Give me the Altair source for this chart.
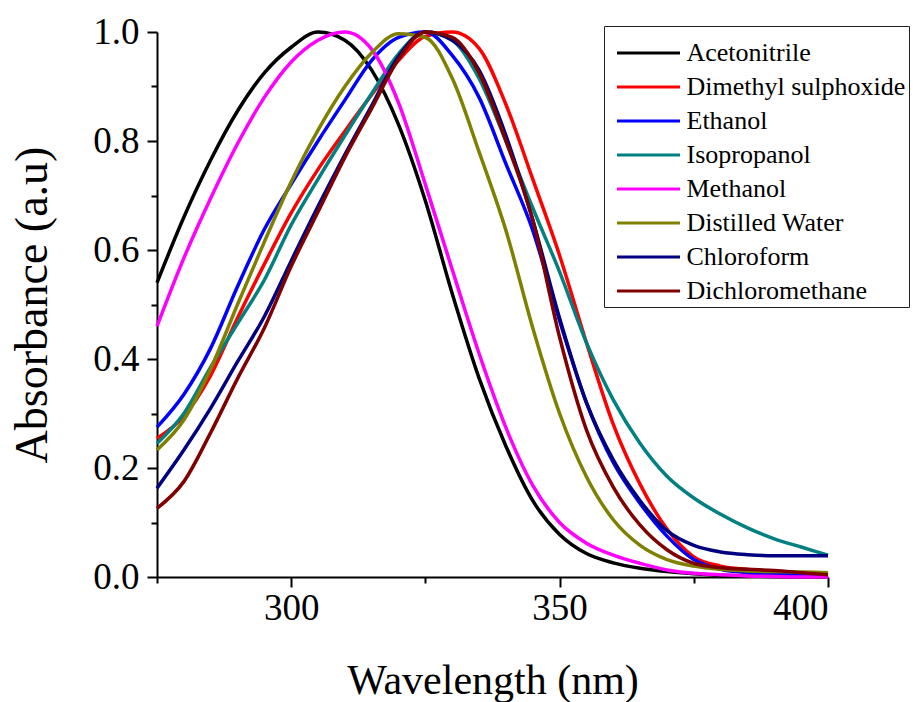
import altair as alt
import pandas as pd

wavelength = [275, 280, 285, 290, 295, 300, 305, 310, 315, 320, 325, 330, 335,
              340, 345, 350, 355, 360, 365, 370, 375, 380, 385, 390, 395, 400]

acetonitrile = [0.54, 0.66, 0.765, 0.855, 0.925, 0.972, 1.0, 0.985, 0.93, 0.83, 0.69, 0.52, 0.365,
                0.24, 0.14, 0.078, 0.043, 0.026, 0.016, 0.01, 0.006, 0.003, 0.002, 0.001, 0.0, 0.0]
dimethyl_sulphoxide = [0.254, 0.295, 0.37, 0.475, 0.574, 0.668, 0.748, 0.818, 0.885, 0.948, 0.992, 1.0, 0.97,
                       0.867, 0.73, 0.59, 0.43, 0.28, 0.17, 0.088, 0.037, 0.02, 0.014, 0.01, 0.007, 0.005]
ethanol = [0.275, 0.335, 0.42, 0.533, 0.638, 0.721, 0.80, 0.875, 0.948, 0.99, 1.0, 0.957, 0.88,
           0.758, 0.636, 0.47, 0.32, 0.21, 0.135, 0.075, 0.032, 0.014, 0.008, 0.006, 0.005, 0.004]
isopropanol = [0.245, 0.30, 0.385, 0.465, 0.545, 0.646, 0.73, 0.81, 0.887, 0.96, 1.0, 0.985, 0.915,
               0.80, 0.677, 0.56, 0.43, 0.325, 0.245, 0.185, 0.145, 0.115, 0.09, 0.07, 0.055, 0.04]
methanol = [0.46, 0.585, 0.695, 0.795, 0.88, 0.945, 0.985, 1.0, 0.968, 0.87, 0.72, 0.564, 0.41,
            0.274, 0.168, 0.10, 0.062, 0.04, 0.025, 0.013, 0.007, 0.004, 0.002, 0.001, 0.0, 0.0]
distilled_water = [0.233, 0.288, 0.382, 0.50, 0.615, 0.725, 0.82, 0.90, 0.962, 0.997, 0.99, 0.915, 0.78,
                   0.636, 0.457, 0.30, 0.184, 0.105, 0.058, 0.032, 0.02, 0.014, 0.011, 0.01, 0.009, 0.008]
chloroform = [0.163, 0.233, 0.31, 0.395, 0.478, 0.58, 0.68, 0.775, 0.865, 0.955, 1.0, 0.985, 0.93,
              0.81, 0.655, 0.475, 0.32, 0.215, 0.14, 0.085, 0.058, 0.046, 0.041, 0.039, 0.039, 0.039]
dichloromethane = [0.126, 0.175, 0.265, 0.364, 0.457, 0.57, 0.67, 0.77, 0.86, 0.95, 1.0, 0.99, 0.925,
                   0.80, 0.655, 0.44, 0.27, 0.165, 0.095, 0.05, 0.025, 0.017, 0.014, 0.012, 0.008, 0.004]

solvents = ["Acetonitrile", "Dimethyl sulphoxide", "Ethanol", "Isopropanol",
            "Methanol", "Distilled Water", "Chloroform", "Dichloromethane"]
colors = ["#000000", "#FF0000", "#0000FF", "#008080",
          "#FF00FF", "#808000", "#000080", "#800000"]
series = [acetonitrile, dimethyl_sulphoxide, ethanol, isopropanol,
          methanol, distilled_water, chloroform, dichloromethane]

major_x = [300, 350, 400]
minor_x = [275, 325, 375]
major_y = [0.0, 0.2, 0.4, 0.6, 0.8, 1.0]
minor_y = [0.1, 0.3, 0.5, 0.7, 0.9]

records = []
for k, (name, vals) in enumerate(zip(solvents, series)):
    for w, v in zip(wavelength, vals):
        records.append({"Wavelength": w, "Absorbance": v, "Solvent": name, "k": k})
df = pd.DataFrame(records)

FONT = "Liberation Serif"
x_scale = alt.Scale(domain=[275, 400], nice=False, zero=False)
y_scale = alt.Scale(domain=[0, 1], nice=False)

lines = alt.Chart(df).mark_line(strokeWidth=3.5, interpolate="monotone").encode(
    x=alt.X("Wavelength:Q", scale=x_scale, axis=alt.Axis(
        orient="bottom", values=major_x, format="d", title="Wavelength (nm)",
        tickSize=10, tickWidth=2, tickColor="black", domainColor="black", domainWidth=2,
        labelFont=FONT, labelFontSize=37, labelColor="black", labelPadding=3,
        titleFont=FONT, titleFontSize=42, titleFontWeight="normal", titleColor="black",
        titlePadding=34, grid=False)),
    y=alt.Y("Absorbance:Q", scale=y_scale, axis=alt.Axis(
        orient="left", values=major_y, format=".1f", title="Absorbance (a.u)",
        tickSize=10, tickWidth=2, tickColor="black", domainColor="black", domainWidth=2,
        labelFont=FONT, labelFontSize=37, labelColor="black", labelPadding=8,
        titleFont=FONT, titleFontSize=46, titleFontWeight="normal", titleColor="black",
        titlePadding=36, grid=False)),
    color=alt.Color("Solvent:N", sort=solvents,
                    scale=alt.Scale(domain=solvents, range=colors),
                    legend=alt.Legend(
                        title=" ", titleFontSize=8, titlePadding=3,
                        orient="none", legendX=447, legendY=-6,
                        symbolType="M-3.5,0L3.5,0", symbolSize=324, symbolStrokeWidth=3,
                        symbolOffset=28.5, labelOffset=25,
                        labelFont=FONT, labelFontSize=26, labelColor="black", labelLimit=400,
                        rowPadding=8, padding=3, strokeColor="#222222", fillColor="white")),
    detail="k:O",
)

minor = alt.Chart(df).mark_point(opacity=0).encode(
    x=alt.X("Wavelength:Q", scale=x_scale, axis=alt.Axis(
        orient="bottom", values=minor_x, labels=False, title=None, domain=False,
        tickSize=6, tickWidth=2, tickColor="black", grid=False)),
    y=alt.Y("Absorbance:Q", scale=y_scale, axis=alt.Axis(
        orient="left", values=minor_y, labels=False, title=None, domain=False,
        tickSize=6, tickWidth=2, tickColor="black", grid=False)),
)

chart = alt.layer(lines, minor).resolve_axis(
    x="independent", y="independent"
).properties(
    width=671, height=545,
    padding={"left": 157, "top": 32, "right": 92, "bottom": 125},
    autosize=alt.AutoSizeParams(type="none"),
    background="white",
).configure_view(strokeWidth=0)

chart.save("out.html", embed_options={"renderer": "svg", "actions": False})
